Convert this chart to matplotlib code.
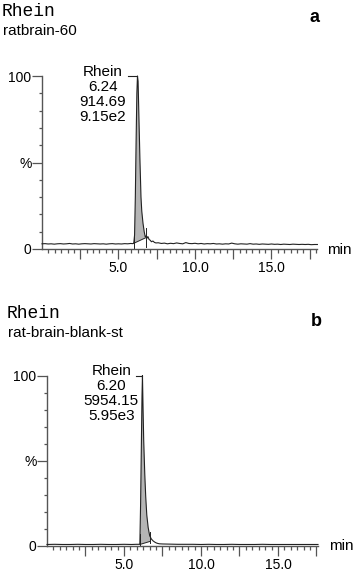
import numpy as np
import matplotlib
matplotlib.use("Agg")
import matplotlib.pyplot as plt

plt.rcParams['font.family'] = ['Liberation Sans', 'DejaVu Sans']

# ---------------- data: panel a (ratbrain-60) ----------------
time_a = [0.0, 0.2, 0.4, 0.6, 0.8, 1.0, 1.2, 1.4, 1.6, 1.8, 2.0, 2.2, 2.4, 2.6, 2.8,
          3.0, 3.2, 3.4, 3.6, 3.8, 4.0, 4.2, 4.4, 4.6, 4.8, 5.0, 5.2, 5.4, 5.6, 5.8,
          5.95, 6.0, 6.05, 6.1, 6.15, 6.2, 6.24, 6.28, 6.33, 6.4, 6.47, 6.52, 6.6,
          6.68, 6.75, 6.8, 6.86, 6.92, 7.0, 7.08, 7.15, 7.25, 7.35, 7.45,
          7.6, 7.8, 8.0, 8.2, 8.4, 8.6, 8.8, 9.0, 9.2, 9.4, 9.6, 9.8, 10.0, 10.2,
          10.4, 10.6, 10.8, 11.0, 11.2, 11.4, 11.6, 11.8, 12.0, 12.2, 12.4, 12.6,
          12.8, 13.0, 13.2, 13.4, 13.6, 13.8, 14.0, 14.2, 14.4, 14.6, 14.8, 15.0,
          15.2, 15.4, 15.6, 15.8, 16.0, 16.2, 16.4, 16.6, 16.8, 17.0, 17.2, 17.4,
          17.6, 17.8, 18.0]
signal_a = [3.0, 3.1, 2.9, 3.0, 2.8, 3.0, 3.1, 2.9, 3.0, 3.2, 2.9, 3.0, 2.8, 3.0, 3.1,
            3.0, 2.9, 3.1, 3.0, 2.9, 3.0, 2.8, 3.0, 3.1, 2.9, 3.0, 2.9, 3.1, 3.0, 3.2,
            3.1, 3.5, 8.0, 30.0, 62.0, 90.0, 100.0, 97.0, 78.0, 52.0, 30.0, 22.0, 15.0,
            10.0, 7.0, 7.5, 6.2, 7.2, 5.5, 5.0, 4.2, 4.6, 3.8, 3.5,
            3.6, 3.2, 3.4, 3.0, 3.3, 3.1, 3.5, 3.2, 3.0, 3.7, 3.2, 3.1, 3.3, 3.0,
            3.2, 2.9, 3.1, 3.0, 3.2, 2.9, 3.0, 2.8, 3.0, 2.9, 3.4, 3.0,
            2.8, 3.0, 2.9, 2.8, 3.1, 2.8, 2.9, 2.7, 2.9, 2.8, 2.7, 2.9,
            2.7, 2.8, 2.6, 2.8, 2.7, 2.6, 2.8, 2.7, 2.6, 2.7, 2.6, 2.7,
            2.5, 2.6, 2.6]
integ_a = [(6.0, 3.3), (6.78, 6.5)]          # integration start / end (time, %)
marks_a = [(6.0, 0.5, 8.0), (6.78, 1.0, 12.0)]  # integration markers (time, from, to)
label_a = "Rhein\n6.24\n914.69\n9.15e2"
apex_a = 6.24

# ---------------- data: panel b (rat-brain-blank-st) ----------------
time_b = [0.0, 0.5, 1.0, 1.5, 2.0, 2.5, 3.0, 3.5, 4.0, 4.5, 5.0, 5.5, 5.8, 5.95,
          6.03, 6.08, 6.13, 6.17, 6.2, 6.24, 6.28, 6.35, 6.41, 6.48, 6.57, 6.67,
          6.78, 6.89, 7.0, 7.1, 7.2, 7.3, 7.5, 8.0, 8.5, 9.0, 9.5, 10.0, 10.5,
          11.0, 11.5, 12.0, 12.5, 13.0, 13.5, 14.0, 14.5, 15.0, 15.5, 16.0, 16.5,
          17.0, 17.6]
signal_b = [0.6, 0.7, 0.6, 0.6, 0.7, 0.6, 0.6, 0.7, 0.6, 0.6, 0.7, 0.6, 0.7, 0.7,
            0.8, 25.0, 60.0, 88.0, 100.0, 80.0, 62.0, 42.0, 29.0, 18.0, 10.6, 5.7,
            3.8, 2.7, 2.0, 1.5, 1.2, 1.0, 0.9, 0.8, 0.7, 0.7, 0.7, 0.6, 0.7,
            0.6, 0.6, 0.7, 0.6, 0.6, 0.6, 0.7, 0.6, 0.6, 0.6, 0.6, 0.6,
            0.6, 0.6]
integ_b = [(6.03, 0.6), (6.69, 2.4)]
marks_b = [(6.03, 0.0, 7.0), (6.69, 1.5, 8.0)]
label_b = "Rhein\n6.20\n5954.15\n5.95e3"
apex_b = 6.20

major_x = [2.5, 5.0, 7.5, 10.0, 12.5, 15.0, 17.5]
major_x_labels = ['', '5.0', '', '10.0', '', '15.0', '']
y_ticks = [0, 50, 100]
y_labels = ['0', '%', '100']

W, H = 358, 572
fig = plt.figure(figsize=(W / 100, H / 100), dpi=100)

AX = '#555555'
LINE = '#222222'


def panel(rect, xmax, t, s, integ, marks, label, label_x, apex):
    ax = fig.add_axes(rect)
    t = np.asarray(t)
    s = np.asarray(s)
    # integration fill
    (t0, b0), (t1, b1) = integ
    inside = (t > t0) & (t < t1)
    px = np.concatenate([[t0], t[inside], [t1], [t1, t0]])
    py = np.concatenate([[np.interp(t0, t, s)], s[inside], [np.interp(t1, t, s)], [b1, b0]])
    ax.fill(px, py, facecolor='#b5b5b5', edgecolor='none', zorder=1)
    ax.plot([t0, t1], [b0, b1], color=LINE, lw=0.7, zorder=2)
    for (mt, m0, m1) in marks:
        ax.plot([mt, mt], [m0, m1], color=LINE, lw=0.7, zorder=2)
    ax.plot(t, s, color=LINE, lw=0.8, zorder=3, clip_on=False)
    # label + leader
    ax.text(label_x, 89.5, label, ha='center', va='center', fontsize=11,
            linespacing=1.1, clip_on=False)
    ax.plot([label_x + 1.6, apex], [100, 100], color=LINE, lw=0.8, clip_on=False)

    ax.set_xlim(0, xmax)
    ax.set_ylim(0, 100)
    for sp in ['top', 'right']:
        ax.spines[sp].set_visible(False)
    for sp in ['left', 'bottom']:
        ax.spines[sp].set_color(AX)
        ax.spines[sp].set_linewidth(1.0)
    ax.set_xticks(major_x)
    ax.set_xticklabels(major_x_labels)
    ax.set_xticks([i * 2.5 / 6 for i in range(1, int(xmax / (2.5 / 6)) + 1)], minor=True)
    ax.set_yticks(y_ticks)
    ax.set_yticklabels(y_labels)
    ax.set_yticks([10, 20, 30, 40, 60, 70, 80, 90], minor=True)
    ax.tick_params(axis='x', which='major', length=7, width=0.9, color=AX,
                   direction='out', pad=2.0, labelsize=10)
    ax.tick_params(axis='x', which='minor', length=3.2, width=0.9, color=AX, direction='out')
    ax.tick_params(axis='y', which='major', length=7, width=0.9, color=AX,
                   direction='out', pad=0.5, labelsize=10)
    ax.tick_params(axis='y', which='minor', length=2.2, width=0.9, color=AX, direction='out')
    ax.patch.set_alpha(0)
    return ax


axA = panel([42 / W, 1 - 249 / H, 275.4 / W, 173 / H], 18.0,
            time_a, signal_a, integ_a, marks_a, label_a, 3.99, apex_a)
axB = panel([47 / W, 1 - 545.5 / H, 271 / W, 170 / H], 17.6,
            time_b, signal_b, integ_b, marks_b, label_b, 4.18, apex_b)


def ftext(x, y, s, **kw):
    fig.text(x / W, 1 - y / H, s, **kw)


ftext(2, 12, 'Rhein', family='Liberation Mono', fontsize=13, va='center')
ftext(3.5, 31, 'ratbrain-60', fontsize=11, va='center')
ftext(315, 17, 'a', fontsize=13, weight='bold', ha='center', va='center')
ftext(339, 250, 'min', fontsize=11, ha='center', va='center')

ftext(7, 313, 'Rhein', family='Liberation Mono', fontsize=13, va='center')
ftext(8, 333, 'rat-brain-blank-st', fontsize=11, va='center')
ftext(316, 322, 'b', fontsize=13, weight='bold', ha='center', va='center')
ftext(341.5, 546, 'min', fontsize=11, ha='center', va='center')

fig.savefig('out.png', dpi=100)
